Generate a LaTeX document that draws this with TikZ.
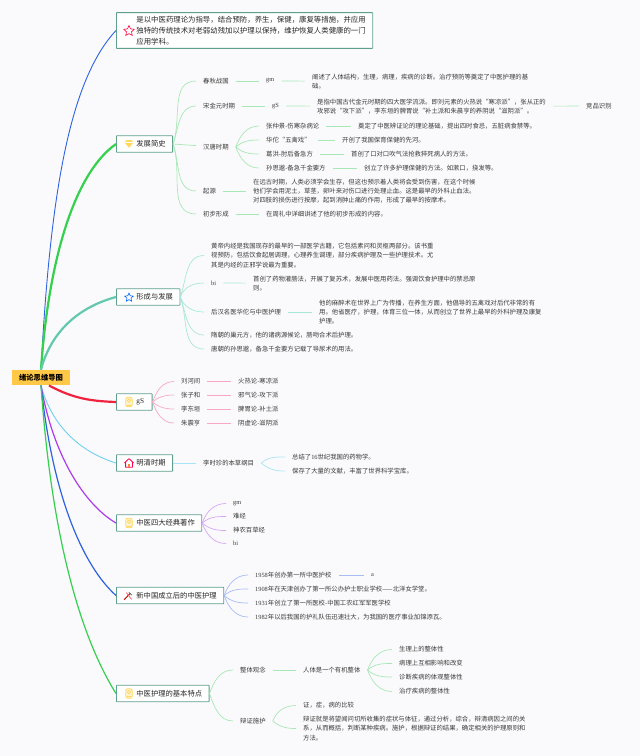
\documentclass[tikz,border=0pt]{standalone}
\usepackage{fontspec}
\usetikzlibrary{shapes.geometric}
\setmainfont{Noto Sans CJK SC}
\newfontfamily\serifpart{Liberation Serif}
\newcommand{\lat}[1]{{\serifpart #1}}
\definecolor{paper}{HTML}{FAFAFC}
\definecolor{ink}{HTML}{3A3A3A}
\definecolor{boxline}{HTML}{5F9F8E}
\definecolor{rootfill}{HTML}{FFC847}
\definecolor{ribbon}{HTML}{FFD85E}
\definecolor{bluetrunk}{HTML}{2E62E0}
\definecolor{greenone}{HTML}{35D04E}
\definecolor{tealtrunk}{HTML}{62C9AE}
\definecolor{redtrunk}{HTML}{F0233F}
\definecolor{skytrunk}{HTML}{6FD0F0}
\definecolor{purpletrunk}{HTML}{AE3AEC}
\definecolor{greentwig}{HTML}{A8E8B6}
\definecolor{tealtwig}{HTML}{A8E8D8}
\definecolor{pinktwig}{HTML}{F8A8C2}
\definecolor{skytwig}{HTML}{A8E4F6}
\definecolor{purpletwig}{HTML}{D8A4F6}
\definecolor{bluetwig}{HTML}{A8BCF6}
\tikzset{
  leaf/.style={anchor=west,inner xsep=7pt,inner ysep=0pt,text=ink,align=left,
    font=\fontsize{6.35}{9.3}\selectfont},
  topic/.style={anchor=west,draw=boxline,fill=white,line width=.8pt,inner xsep=7pt,inner ysep=0pt,align=left,
    minimum height=16.5pt,text=black!85,rounded corners=.5pt,font=\fontsize{7.3}{10.8}\selectfont},
  bup/.style={out=70,in=180},
  bdn/.style={out=-70,in=180},
  twig/.style={line width=.7pt},
  trunk/.style={out looseness=1.3,in looseness=.5},
  markstar/.style={star,star points=5,star point ratio=2.1,inner sep=0pt,minimum size=11pt,line width=.6pt},
  pics/ribbonmark/.style={code={
    \draw[draw=ribbon,fill=ribbon!30,line width=.8pt,rounded corners=2pt] (-3.2,-4.8) rectangle (3.2,4.8);
    \draw[draw=ribbon,line width=.7pt] (0,-1.4) circle (1.7);
    \draw[draw=ribbon,line width=.6pt] (-1.6,3) -- (1.6,3);
  }},
  pics/gemmark/.style={code={
    \fill[ribbon] (-4.5,-1.6) -- (-2.2,-3.8) -- (2.2,-3.8) -- (4.5,-1.6) -- (0,3.8) -- cycle;
    \draw[white,line width=.3pt] (-4.5,-1.6) -- (4.5,-1.6);
  }},
  pics/housemark/.style={code={
    \draw[draw=red!70!magenta,line width=.8pt,line join=round] (-4.6,0) -- (0,-4.4) -- (4.6,0) (-3.4,-.8) -- (-3.4,4.2) -- (3.4,4.2) -- (3.4,-.8);
    \fill[ribbon!60!red] (-1.2,.8) rectangle (1.2,4);
  }},
  pics/toolmark/.style={code={
    \draw[red!80!black,line width=1pt] (-3.8,3.6) -- (2.2,-2.6);
    \draw[red!60,line width=.8pt] (-1.6,-3.4) -- (3.6,3.4);
    \draw[black!55,line width=.8pt] (.8,-3.8) -- (3.8,-1);
  }}
}
\begin{document}
\begin{tikzpicture}[x=1pt,y=-1pt]
      \useasboundingbox[fill=paper] (0,0) rectangle (640,756);
      \draw
        (116,30.5) node[topic,inner ysep=3.4pt,font=\fontsize{7.4}{11}\selectfont] (def){\hspace*{13pt}是以中医药理论为指导，结合预防，养生，保健，康复等措施，并应用\\
          \hspace*{13pt}独特的传统技术对老弱幼残加以护理以保持，维护恢复人类健康的一门\hspace*{3pt}\\
          \hspace*{13pt}应用学科。}
        (116,144) node[topic] (hist){\hspace*{13pt}发展简史}
        (116,297) node[topic] (form){\hspace*{13pt}形成与发展}
        (116,402) node[topic] (gs){\hspace*{13pt}\lat{gS}\hspace*{1pt}}
        (116,463) node[topic] (ming){\hspace*{13pt}明清时期}
        (116,523) node[topic] (four){\hspace*{13pt}中医四大经典著作}
        (116,595.5) node[topic] (newc){\hspace*{13pt}新中国成立后的中医护理}
        (116,693.5) node[topic] (feat){\hspace*{13pt}中医护理的基本特点};
      % development
      \draw
        (196,81) node[leaf] (h1){春秋战国}
        (259,81) node[leaf] (h1a){\lat{gm}}
        (305,81.5) node[leaf] (h1b){阐述了人体结构，生理，病理，疾病的诊断。治疗预防等奠定了中医护理的基\\础。}
        (196,106) node[leaf] (h2){宋金元时期}
        (265,106) node[leaf] (h2a){\lat{gS}}
        (310,106.5) node[leaf] (h2b){是指中国古代金元时期的四大医学流派。即刘元素的火热说“寒凉派”，张从正的\\攻邪说“攻下派”，李东垣的脾胃说“补土派和朱晨亨的养阴说“滋阴派”。}
        (579,106) node[leaf] (h2c){竞品识别}
        (196,147) node[leaf] (h3){汉唐时期}
        (259,126) node[leaf] (h31){张仲景-伤寒杂病论}
        (351,126) node[leaf] (h31a){奠定了中医辨证论的理论基础，提出四时食忌，五脏病食禁等。}
        (259,140) node[leaf] (h32){华佗“五禽戏”}
        (335,140) node[leaf] (h32a){开创了我国保育保健的先河。}
        (259,154) node[leaf] (h33){葛洪-肘后备急方}
        (344,154) node[leaf] (h33a){首创了口对口吹气法抢救猝死病人的方法。}
        (259,168) node[leaf] (h34){孙思邈-备急千金要方}
        (357,168) node[leaf] (h34a){创立了许多护理保健的方法。如漱口，挠发等。}
        (196,191) node[leaf] (h4){起源}
        (246,191) node[leaf] (h4a){在远古时期，人类必须学会生存，但这也预示着人类将会受到伤害，在这个时候\\他们学会用泥土，草茎，卵叶来对伤口进行处理止血。这是最早的外科止血法。\\对四肢的损伤进行按摩，起到消肿止痛的作用，形成了最早的按摩术。}
        (196,214) node[leaf] (h5){初步形成}
        (259,214) node[leaf] (h5a){在周礼中详细讲述了他的初步形成的内容。};
      % formation
      \draw
        (204,255.5) node[leaf] (f1){黄帝内经是我国现存的最早的一部医学古籍，它包括素问和灵枢两部分。该书重\\视预防，包括饮食起居调理，心理养生调理，部分疾病护理及一些护理技术。尤\\其是内经的正邪学说最为重要。}
        (204,283) node[leaf] (f2){\lat{bi}}
        (246,283.5) node[leaf] (f2a){首创了药物灌肠法，开展了复苏术，发展中医用药法。强调饮食护理中的禁忌原\\则。}
        (204,312) node[leaf] (f3){后汉名医华佗与中医护理}
        (312,312) node[leaf] (f3a){他的麻醉术在世界上广为传播，在养生方面，他倡导的五禽戏对后代非常的有\\用。他省医疗，护理，体育三位一体，从而创立了世界上最早的外科护理及康复\\护理。}
        (204,335) node[leaf] (f4){隋朝的巢元方，他的诸病源候论，肠吻合术后护理。}
        (204,349) node[leaf] (f5){唐朝的孙思邈，备急千金要方记载了导尿术的用法。};
      % schools
      \draw
        (174,381.5) node[leaf] (g1){刘河间}
        (231,381.5) node[leaf] (g1a){火热论-寒凉派}
        (174,395) node[leaf] (g2){张子和}
        (231,395) node[leaf] (g2a){邪气论-攻下派}
        (174,409) node[leaf] (g3){李东垣}
        (231,409) node[leaf] (g3a){脾胃论-补土派}
        (174,423) node[leaf] (g4){朱震亨}
        (231,423) node[leaf] (g4a){阴虚论-滋阴派};
      % ming and qing
      \draw
        (196,463) node[leaf] (m1){李时珍的本草纲目}
        (285,457) node[leaf] (m11){总结了\lat{16}世纪我国的药物学。}
        (285,471) node[leaf] (m12){保存了大量的文献，丰富了世界科学宝库。};
      % classics
      \draw
        (226,503.5) node[leaf] (c1){\lat{gm}}
        (226,516.5) node[leaf] (c2){难经}
        (226,530.5) node[leaf] (c3){神农百草经}
        (226,543.5) node[leaf] (c4){\lat{bi}};
      % new china
      \draw
        (248,575) node[leaf] (n1){\lat{1958}年创办第一所中医护校}
        (364,575) node[leaf] (n1a){\lat{a}}
        (248,589) node[leaf] (n2){\lat{1908}年在天津创办了第一所公办护士职业学校——北洋女学堂。}
        (248,603) node[leaf] (n3){\lat{1931}年创立了第一所医校-中国工农红军军医学校}
        (248,617) node[leaf] (n4){\lat{1982}年以后我国的护礼队伍迅速壮大，为我国的医疗事业加锦添瓦。};
      % features
      \draw
        (233,670) node[leaf] (t1){整体观念}
        (296,670) node[leaf] (t1a){人体是一个有机整体}
        (392,649.5) node[leaf] (t11){生理上的整体性}
        (392,663.5) node[leaf] (t12){病理上互相影响和改变}
        (392,677) node[leaf] (t13){诊断疾病的体观整体性}
        (392,691.5) node[leaf] (t14){治疗疾病的整体性}
        (233,721) node[leaf] (t2){辩证施护}
        (296,705.5) node[leaf] (t21){证，症，病的比较}
        (296,728.5) node[leaf] (t22){辩证就是将望闻问切所收集的症状与体征，通过分析，综合，辩清病因之间的关\\系，从而概括，判断某种疾病。施护，根据辩证的结果，确定相关的护理原则和\\方法。};
      \begin{scope}[twig,color=greentwig]
        \draw (hist.east) to[bup] (h1);
        \draw (hist.east) to[bup] (h2);
        \draw (hist.east) to (h3);
        \draw (hist.east) to[bdn] (h4);
        \draw (hist.east) to[bdn] (h5);
        \draw (h1) to (h1a);
        \draw (h1a) to (h1b);
        \draw (h2) to (h2a);
        \draw (h2a) to (h2b);
        \draw (h2b) to (h2c);
        \draw (h3.east) to[bup] (h31);
        \draw (h3.east) to[out=40,in=180] (h32);
        \draw (h3.east) to[out=-40,in=180] (h33);
        \draw (h3.east) to[bdn] (h34);
        \draw (h31) to (h31a);
        \draw (h32) to (h32a);
        \draw (h33) to (h33a);
        \draw (h34) to (h34a);
        \draw (h4) to (h4a);
        \draw (h5) to (h5a);
        \draw (feat.east) to[bup] (t1);
        \draw (feat.east) to[bdn] (t2);
        \draw (t1) to (t1a);
        \draw (t1a.east) to[bup] (t11);
        \draw (t1a.east) to[out=40,in=180] (t12);
        \draw (t1a.east) to[out=-40,in=180] (t13);
        \draw (t1a.east) to[bdn] (t14);
        \draw (t2.east) to[bup] (t21);
        \draw (t2.east) to[out=-40,in=180] (t22);
      \end{scope}
      \begin{scope}[twig,color=tealtwig]
        \draw (form.east) to[bup] (f1);
        \draw (form.east) to[bup] (f2);
        \draw (form.east) to[bdn] (f3);
        \draw (form.east) to[bdn] (f4);
        \draw (form.east) to[bdn] (f5);
        \draw (f2) to (f2a);
        \draw (f3) to (f3a);
      \end{scope}
      \begin{scope}[twig,color=pinktwig]
        \draw (gs.east) to[bup] (g1);
        \draw (gs.east) to[out=40,in=180] (g2);
        \draw (gs.east) to[out=-40,in=180] (g3);
        \draw (gs.east) to[bdn] (g4);
        \draw (g1) to (g1a);
        \draw (g2) to (g2a);
        \draw (g3) to (g3a);
        \draw (g4) to (g4a);
      \end{scope}
      \begin{scope}[twig,color=skytwig]
        \draw (ming) to (m1);
        \draw (m1.east) to[out=40,in=180] (m11);
        \draw (m1.east) to[out=-40,in=180] (m12);
      \end{scope}
      \begin{scope}[twig,color=purpletwig]
        \draw (four.east) to[bup] (c1);
        \draw (four.east) to[out=40,in=180] (c2);
        \draw (four.east) to[out=-40,in=180] (c3);
        \draw (four.east) to[bdn] (c4);
      \end{scope}
      \begin{scope}[twig,color=bluetwig]
        \draw (newc.east) to[bup] (n1);
        \draw (newc.east) to[out=40,in=180] (n2);
        \draw (newc.east) to[out=-40,in=180] (n3);
        \draw (newc.east) to[bdn] (n4);
        \draw (n1) to (n1a);
      \end{scope}
      % trunks
      \draw (41,377.5) node[fill=rootfill,minimum width=58pt,minimum height=15.5pt,inner sep=0pt,font=\fontsize{7.3}{9}\selectfont\bfseries] (root) {绪论思维导图};
      \draw[bluetrunk,line width=.9pt] (root.north) to[trunk,out=87,in=227] (def.west);
      \draw[greenone,line width=2.2pt] (root.north) to[trunk,out=86,in=215] (hist.west);
      \draw[tealtrunk,line width=2.2pt] (root.north) to[trunk,out=75,in=195] (form.west);
      \draw[redtrunk,line width=2.2pt] (root.-45) to[out=-28,in=178] (gs.west);
      \draw[skytrunk,line width=.9pt] (root.south) to[trunk,out=-75,in=163] (ming.west);
      \draw[purpletrunk,line width=1.2pt] (root.south) to[trunk,out=-80,in=150] (four.west);
      \draw[bluetrunk,line width=1.2pt] (root.south) to[trunk,out=-84,in=138] (newc.west);
      \draw[greenone,line width=1.2pt] (root.south) to[trunk,out=-86,in=122] (feat.west);
      % marks
      \node[markstar,draw=red!75!magenta] (m0) at (129,31) {};
      \node[markstar,draw=blue!60!cyan,minimum size=9pt] (m2) at (129,297.5) {};
      \pic at (129,144) {gemmark};
      \pic at (129,402) {ribbonmark};
      \pic at (129,463) {housemark};
      \pic at (129,523) {ribbonmark};
      \pic at (128,596) {toolmark};
      \pic at (129,693.5) {ribbonmark};
    \end{tikzpicture}
\end{document}
